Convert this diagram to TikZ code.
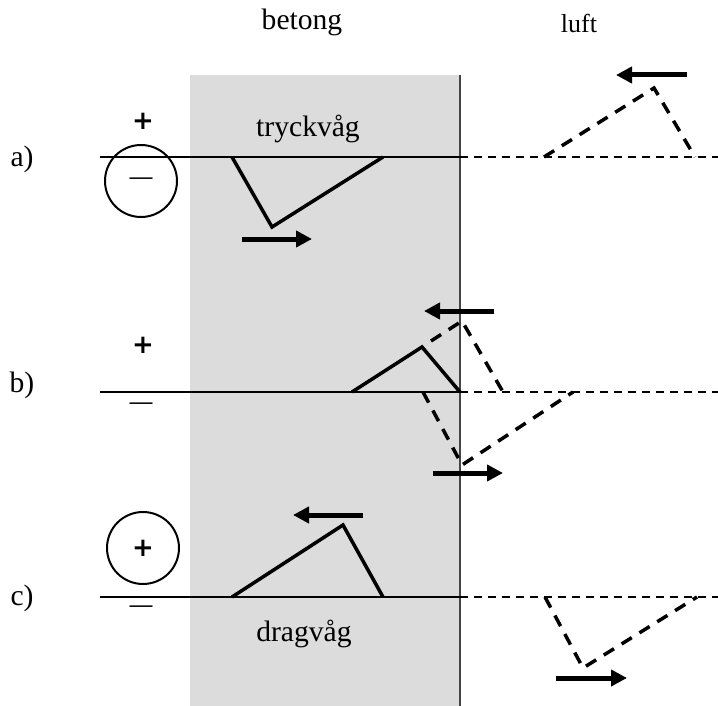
\documentclass[tikz,border=0pt]{standalone}
\usepackage{fontspec}
\setmainfont{Liberation Serif}
\newfontfamily\symfont{Liberation Sans}
\newfontfamily\plusfont{DejaVu Sans}
\usetikzlibrary{arrows.meta}
\definecolor{concrete}{HTML}{DCDCDC}
\definecolor{wallline}{HTML}{444444}
\tikzset{
  lbl/.style={anchor=base, inner sep=0pt, font=\fontsize{29.6}{34}\selectfont},
  smalllbl/.style={anchor=base, inner sep=0pt, font=\fontsize{26}{30}\selectfont},
  plussign/.style={inner sep=0pt, font=\plusfont\bfseries\fontsize{26}{30}\selectfont},
  minussign/.style={inner sep=0pt, font=\symfont\fontsize{23}{26}\selectfont},
  axisline/.style={line width=2pt},
  airline/.style={line width=2.5pt, dash pattern=on 8pt off 6pt},
  wave/.style={line width=3.5pt, line join=miter},
  airwave/.style={line width=3.5pt, dash pattern=on 12pt off 9pt},
  motion/.style={line width=5pt, -{Triangle[length=16pt,width=16pt]}},
  chargering/.style={circle, draw, line width=2pt, minimum size=72pt, inner sep=0pt}
}
\begin{document}
\begin{tikzpicture}[x=1pt,y=-1pt]
\useasboundingbox (0,0) rectangle (718,706);
% concrete slab
\fill[concrete] (190,75) rectangle (460,706);
\draw[wallline, line width=2pt] (460,75) -- (460,706);
% headers
\node[lbl] (hbetong) at (302,30) {betong};
\node[smalllbl] (hluft) at (579,33) {luft};

% ---------- a) ----------
\node[lbl] (la) at (22,167) {a)};
\draw[axisline] (100,157) -- (460,157);
\draw[airline] (460,157) -- (718,157);
\node[plussign] (pa) at (143,121) {+};
\node[chargering] (ca) at (141,181) {};
\node[minussign] (ma) at (141,181) {—};
\node[lbl] (ttryck) at (308,137) {tryckvåg};
\draw[wave] (232,157) -- (272,227) -- (383,157);
\draw[motion] (242,239) -- (312,239);
\draw[airwave] (544,157) -- (654,88) -- (695,157);
\draw[motion] (687,75) -- (616,75);

% ---------- b) ----------
\node[lbl] (lb) at (22,392) {b)};
\draw[axisline] (100,392) -- (460,392);
\draw[airline] (460,392) -- (718,392);
\node[plussign] (pb) at (143,345) {+};
\node[minussign] (mb) at (141,406) {—};
\draw[wave] (352,392) -- (422,347) -- (460,392);
\draw[airwave] (431,341) -- (462,321) -- (503,392);
\draw[airwave] (423,392) -- (462,465) -- (573,392);
\draw[motion] (494,311) -- (424,311);
\draw[motion] (433,473) -- (503,473);

% ---------- c) ----------
\node[lbl] (lc) at (22,605) {c)};
\draw[axisline] (100,597) -- (460,597);
\draw[airline] (460,597) -- (718,597);
\node[chargering] (cc) at (143,548) {};
\node[plussign] (pc) at (143,548) {+};
\node[minussign] (mc) at (141,609) {—};
\draw[wave] (232,597) -- (343,525) -- (383,597);
\draw[motion] (363,515) -- (293,515);
\node[lbl] (tdrag) at (304,641) {dragvåg};
\draw[airwave] (545,597) -- (583,668) -- (697,597);
\draw[motion] (556,678) -- (627,678);
\end{tikzpicture}
\end{document}
